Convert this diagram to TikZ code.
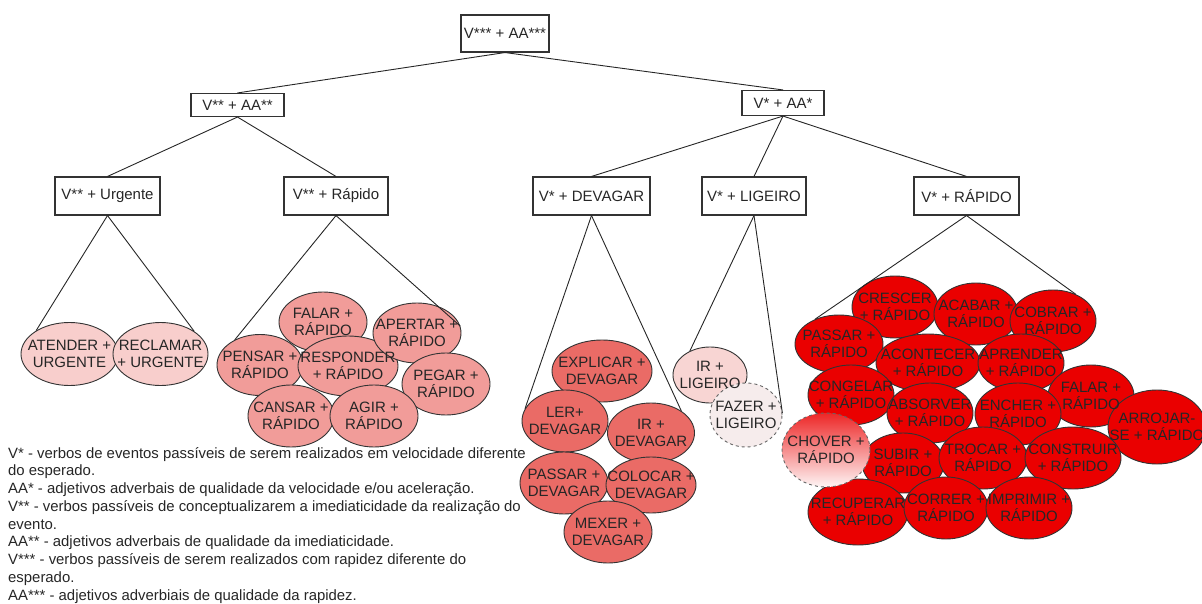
\documentclass[tikz,border=0pt]{standalone}
\usepackage{fontspec}
\setmainfont{Liberation Sans}
\usetikzlibrary{shapes.geometric}
\definecolor{urgfill}{HTML}{F8CECC}
\definecolor{rapfill}{HTML}{F19C99}
\definecolor{devfill}{HTML}{EA6B66}
\definecolor{ligfill}{HTML}{F8D5D3}
\definecolor{fazfill}{HTML}{F6ECEC}
\definecolor{redfill}{HTML}{EA0000}

\begin{document}
\begin{tikzpicture}[x=1pt,y=-1pt,
  box/.style={draw=black!80,line width=1.1pt,inner sep=0pt,text=black!85,
    font=\fontsize{15}{17}\selectfont},
  blob/.style={ellipse,draw=black!80,line width=0.9pt,inner sep=0pt},
  blobtext/.style={align=center,inner sep=0pt,text=black!85,
    font=\fontsize{15}{17.5}\selectfont},
  link/.style={draw=black!85,line width=0.9pt}]
\useasboundingbox (0,0) rectangle (1202,604);

% boxes of the tree
\node[box,minimum width=88,minimum height=37] (root) at (505,33.5) {V*** + AA***};
\node[box,minimum width=93,minimum height=23] (aa2) at (237.5,105) {V** + AA**};
\node[box,minimum width=82,minimum height=25] (aa1) at (783,103) {V* + AA*};
\node[box,minimum width=105,minimum height=38] (urg) at (107.5,196) {V** + Urgente};
\node[box,minimum width=104,minimum height=38] (rap2) at (336,196) {V** + Rápido};
\node[box,minimum width=117,minimum height=38] (dev) at (591.5,196) {V* + DEVAGAR};
\node[box,minimum width=104,minimum height=38] (lig) at (754,196) {V* + LIGEIRO};
\node[box,minimum width=105,minimum height=38] (rap1) at (966.5,196) {V* + RÁPIDO};

% ellipses: name/x/y/width/height/fill/text
\def\blobs{
  atender/69.5/354/97/63/urgfill/{ATENDER +\\URGENTE},
  reclamar/160.5/354/95/63/urgfill/{RECLAMAR\\+ URGENTE},
  falar/323/322/88/60/rapfill/{FALAR +\\RÁPIDO},
  pensar/260/365/86/61/rapfill/{PENSAR +\\RÁPIDO},
  responder/348/366/100/60/rapfill/{RESPONDER\\+ RÁPIDO},
  apertar/417/333/88/60/rapfill/{APERTAR +\\RÁPIDO},
  pegar/446/384/88/62/rapfill/{PEGAR +\\RÁPIDO},
  cansar/291/416/86/62/rapfill/{CANSAR +\\RÁPIDO},
  agir/374/416/88/62/rapfill/{AGIR +\\RÁPIDO},
  explicar/602/371/100/62/devfill/{EXPLICAR +\\DEVAGAR},
  ler/565/421/86/62/devfill/{LER+\\DEVAGAR},
  irdev/651/433/87/60/devfill/{IR +\\DEVAGAR},
  passardev/564/483/88/62/devfill/{PASSAR +\\DEVAGAR},
  colocar/651/485/90/56/devfill/{COLOCAR +\\DEVAGAR},
  mexer/608/532/88/62/devfill/{MEXER +\\DEVAGAR},
  irlig/710/375/74/56/ligfill/{IR +\\LIGEIRO},
  crescer/895/307/86/62/redfill/{CRESCER\\+ RÁPIDO},
  acabar/976/314/84/62/redfill/{ACABAR +\\RÁPIDO},
  cobrar/1053/321/86/62/redfill/{COBRAR +\\RÁPIDO},
  passar/839/344/88/58/redfill/{PASSAR +\\RÁPIDO},
  acontecer/928/363/104/58/redfill/{ACONTECER\\+ RÁPIDO},
  aprender/1021/363/86/58/redfill/{APRENDER\\+ RÁPIDO},
  congelar/851/395/86/60/redfill/{CONGELAR\\+ RÁPIDO},
  falarr/1091/396/86/62/redfill/{FALAR +\\RÁPIDO},
  absorver/930/413/86/60/redfill/{ABSORVER\\+ RÁPIDO},
  encher/1018/414/86/62/redfill/{ENCHER +\\RÁPIDO},
  arrojar/1157/427/98/74/redfill/{ARROJAR-\\SE + RÁPIDO},
  subir/903/463/82/60/redfill/{SUBIR +\\RÁPIDO},
  trocar/983/458/88/62/redfill/{TROCAR +\\RÁPIDO},
  construir/1073/458/96/62/redfill/{CONSTRUIR\\+ RÁPIDO},
  recuperar/858/512/100/66/redfill/{RECUPERAR\\+ RÁPIDO},
  correr/946/508/84/62/redfill/{CORRER +\\RÁPIDO},
  imprimir/1029/508/86/62/redfill/{IMPRIMIR +\\RÁPIDO}}

\foreach \n/\x/\y/\w/\h/\c/\t in \blobs
  \node[blob,fill=\c,minimum width=\w,minimum height=\h] (\n) at (\x,\y) {};
\node[blob,dashed,draw=black!60,fill=fazfill,minimum width=72,minimum height=64] (fazer) at (746,415) {};
\node[blob,dashed,draw=black!60,top color=redfill!85,bottom color=redfill!4,
  minimum width=88,minimum height=74] (chover) at (826,450) {};
\foreach \n/\x/\y/\w/\h/\c/\t in \blobs
  \node[blobtext] (\n-t) at (\n) {\t};
\node[blobtext] (fazer-t) at (fazer) {FAZER +\\LIGEIRO};
\node[blobtext] (chover-t) at (chover) {CHOVER +\\RÁPIDO};

% connectors
\draw[link] (root.south) -- (aa2.north);
\draw[link] (root.south) -- (aa1.north);
\draw[link] (aa2.south) -- (urg.north);
\draw[link] (aa2.south) -- (rap2.north);
\draw[link] (aa1.south) -- (dev.north);
\draw[link] (aa1.south) -- (lig.north);
\draw[link] (aa1.south) -- (rap1.north);
\draw[link] (urg.south) -- (atender.145);
\draw[link] (urg.south) -- (reclamar.34);
\draw[link] (rap2.south) -- (pensar.135);
\draw[link] (rap2.south) -- (apertar.9);
\draw[link] (dev.south) -- (ler.163);
\draw[link] (dev.south) -- (irdev.36);
\draw[link] (lig.south) -- (irlig.130);
\draw[link] (lig.south) -- (fazer.3);
\draw[link] (rap1.south) -- (passar.134);
\draw[link] (rap1.south) -- (cobrar.50);

% legend
\node[anchor=north west,align=left,inner sep=0pt,text=black!85,
  font=\fontsize{14.9}{17.75}\selectfont] (legenda) at (8,447) {%
V* - verbos de eventos passíveis de serem realizados em velocidade diferente\\
do esperado.\\
AA* - adjetivos adverbais de qualidade da velocidade e/ou aceleração.\\
V** - verbos passíveis de conceptualizarem a imediaticidade da realização do\\
evento.\\
AA** - adjetivos adverbais de qualidade da imediaticidade.\\
V*** - verbos passíveis de serem realizados com rapidez diferente do\\
esperado.\\
AA*** - adjetivos adverbiais de qualidade da rapidez.};
\end{tikzpicture}
\end{document}
